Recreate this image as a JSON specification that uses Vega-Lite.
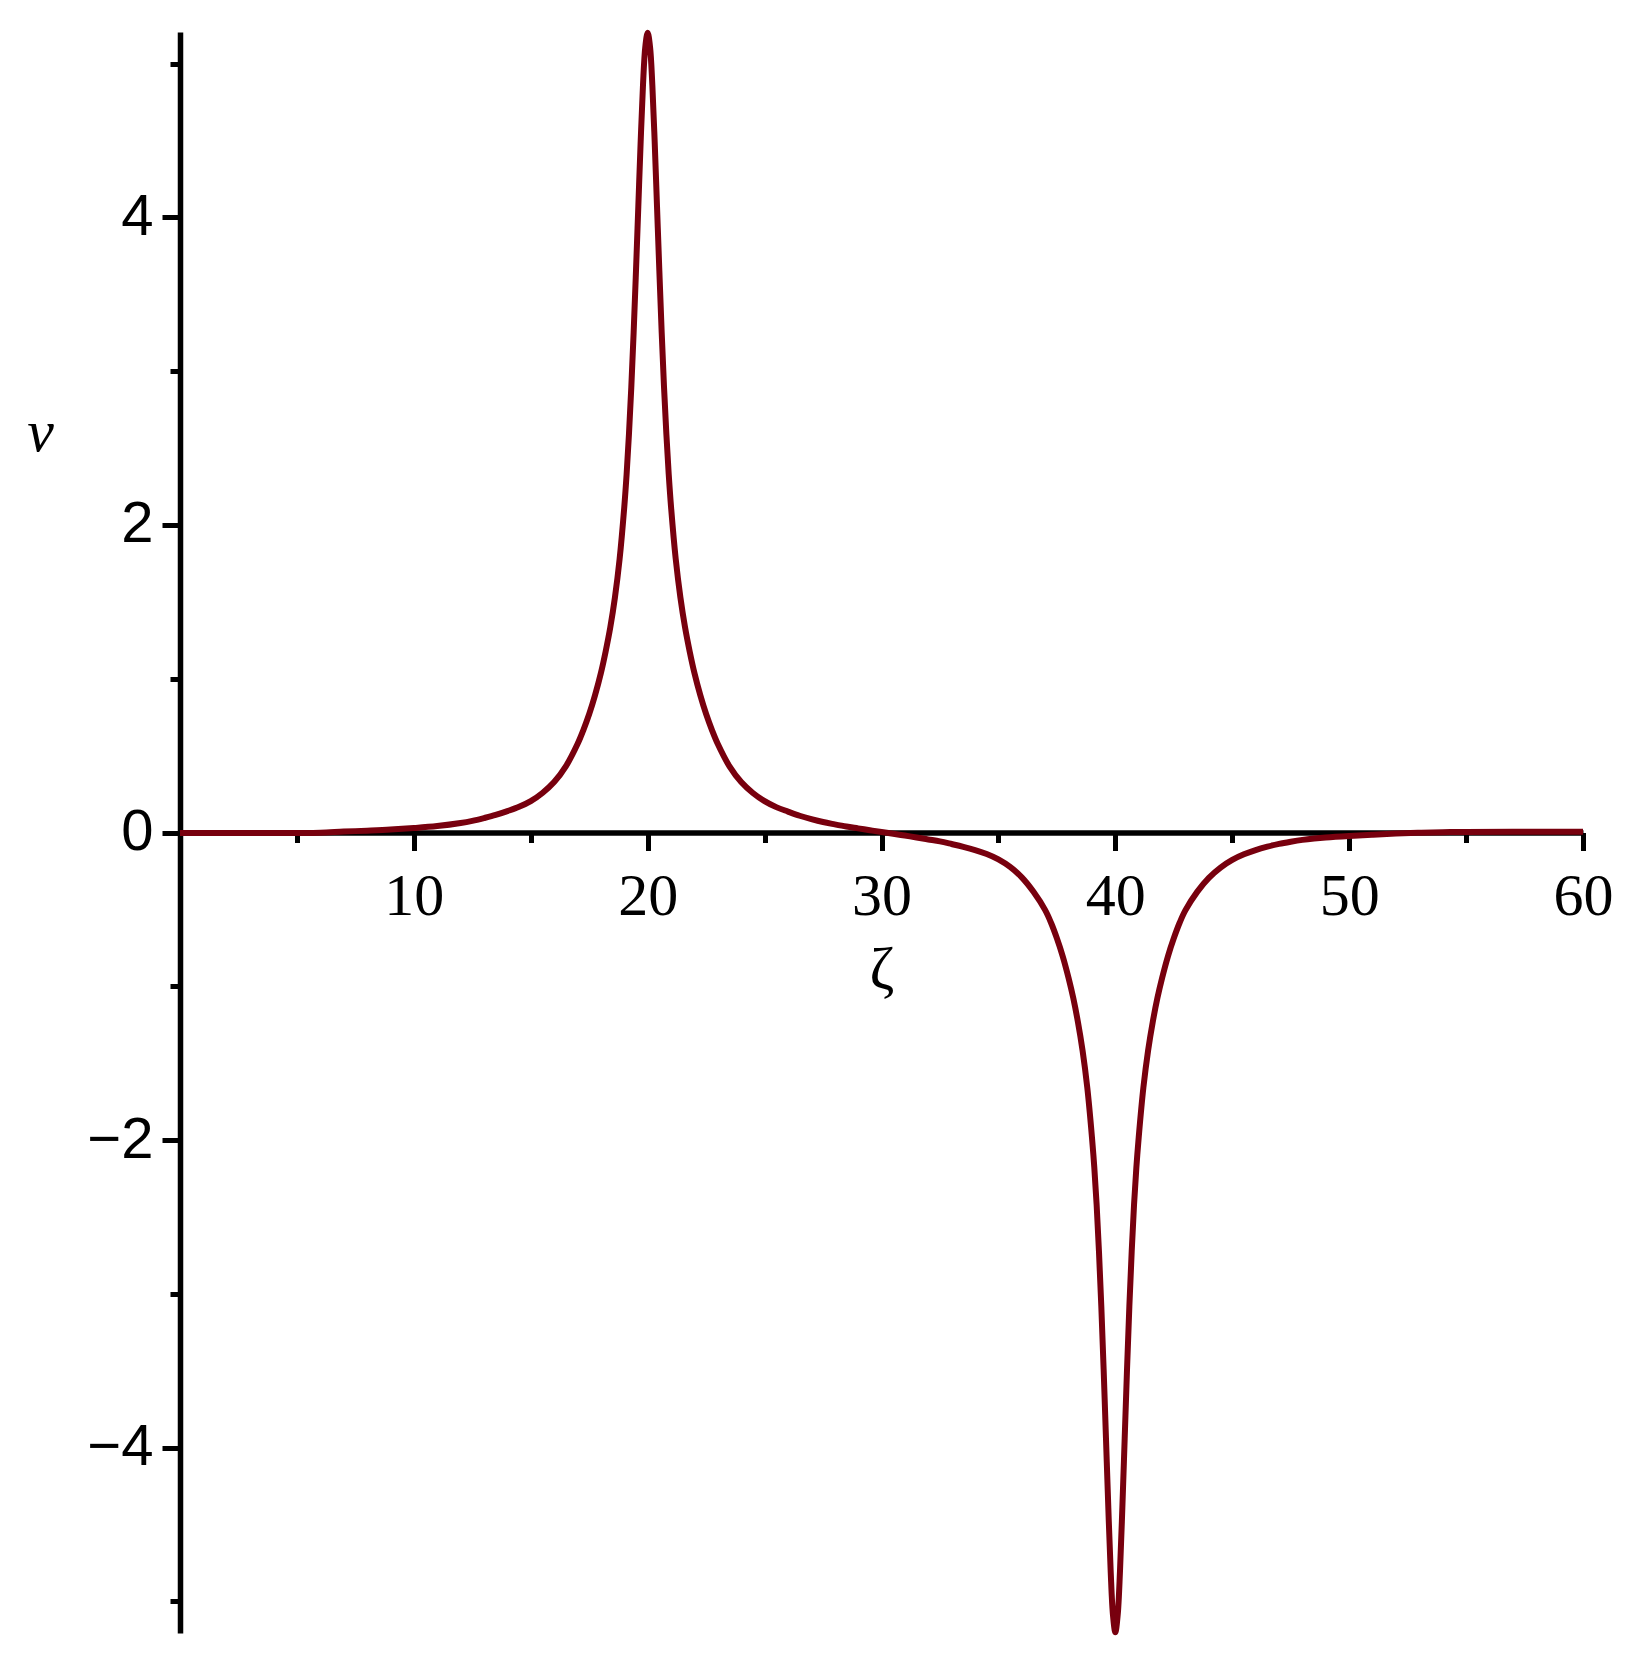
{
  "$schema": "https://vega.github.io/schema/vega-lite/v6.json",
  "width": 1403,
  "height": 1601,
  "autosize": {"type": "none"},
  "padding": {"left": 180, "top": 32, "right": 45, "bottom": 42},
  "background": "white",
  "config": {"view": {"stroke": null}, "axis": {"grid": false}},
  "data": {"values": [
    {"z": 0, "v": -0.004}, {"z": 2, "v": -0.004}, {"z": 4, "v": -0.004}, {"z": 5, "v": -0.003},
    {"z": 6, "v": -0.001}, {"z": 7, "v": 0.006}, {"z": 8, "v": 0.012}, {"z": 9, "v": 0.019},
    {"z": 10, "v": 0.029}, {"z": 11, "v": 0.042}, {"z": 12, "v": 0.062}, {"z": 12.5, "v": 0.076},
    {"z": 13, "v": 0.094}, {"z": 13.5, "v": 0.114}, {"z": 14, "v": 0.139}, {"z": 14.5, "v": 0.167},
    {"z": 15, "v": 0.204}, {"z": 15.5, "v": 0.257}, {"z": 16, "v": 0.328}, {"z": 16.5, "v": 0.43},
    {"z": 17, "v": 0.575}, {"z": 17.25, "v": 0.666}, {"z": 17.5, "v": 0.77}, {"z": 17.75, "v": 0.893},
    {"z": 18, "v": 1.037}, {"z": 18.2, "v": 1.175}, {"z": 18.4, "v": 1.333}, {"z": 18.6, "v": 1.528},
    {"z": 18.8, "v": 1.778}, {"z": 19, "v": 2.117}, {"z": 19.1, "v": 2.33}, {"z": 19.2, "v": 2.59},
    {"z": 19.3, "v": 2.895}, {"z": 19.4, "v": 3.25}, {"z": 19.5, "v": 3.65}, {"z": 19.6, "v": 4.07},
    {"z": 19.7, "v": 4.49}, {"z": 19.8, "v": 4.86}, {"z": 19.9, "v": 5.11}, {"z": 20, "v": 5.2},
    {"z": 20.1, "v": 5.11}, {"z": 20.2, "v": 4.86}, {"z": 20.3, "v": 4.49}, {"z": 20.4, "v": 4.07},
    {"z": 20.5, "v": 3.65}, {"z": 20.6, "v": 3.25}, {"z": 20.7, "v": 2.895}, {"z": 20.8, "v": 2.59},
    {"z": 20.9, "v": 2.33}, {"z": 21, "v": 2.117}, {"z": 21.2, "v": 1.778}, {"z": 21.4, "v": 1.528},
    {"z": 21.6, "v": 1.333}, {"z": 21.8, "v": 1.175}, {"z": 22, "v": 1.037}, {"z": 22.25, "v": 0.893},
    {"z": 22.5, "v": 0.77}, {"z": 22.75, "v": 0.666}, {"z": 23, "v": 0.575}, {"z": 23.5, "v": 0.43},
    {"z": 24, "v": 0.328}, {"z": 24.5, "v": 0.257}, {"z": 25, "v": 0.204}, {"z": 25.5, "v": 0.165},
    {"z": 26, "v": 0.136}, {"z": 26.5, "v": 0.109}, {"z": 27, "v": 0.087}, {"z": 27.5, "v": 0.068},
    {"z": 28, "v": 0.053}, {"z": 28.5, "v": 0.039}, {"z": 29, "v": 0.027}, {"z": 29.5, "v": 0.015},
    {"z": 30, "v": 0.003}, {"z": 30.5, "v": -0.008}, {"z": 31, "v": -0.02}, {"z": 31.5, "v": -0.032},
    {"z": 32, "v": -0.045}, {"z": 32.5, "v": -0.058}, {"z": 33, "v": -0.075}, {"z": 33.5, "v": -0.093},
    {"z": 34, "v": -0.114}, {"z": 34.5, "v": -0.14}, {"z": 35, "v": -0.175}, {"z": 35.5, "v": -0.224},
    {"z": 36, "v": -0.292}, {"z": 36.5, "v": -0.386}, {"z": 37, "v": -0.505}, {"z": 37.25, "v": -0.587},
    {"z": 37.5, "v": -0.688}, {"z": 37.75, "v": -0.805}, {"z": 38, "v": -0.946}, {"z": 38.2, "v": -1.076},
    {"z": 38.4, "v": -1.232}, {"z": 38.6, "v": -1.419}, {"z": 38.8, "v": -1.658}, {"z": 39, "v": -1.981},
    {"z": 39.1, "v": -2.177}, {"z": 39.2, "v": -2.42}, {"z": 39.3, "v": -2.724}, {"z": 39.4, "v": -3.08},
    {"z": 39.5, "v": -3.49}, {"z": 39.6, "v": -3.94}, {"z": 39.7, "v": -4.39}, {"z": 39.8, "v": -4.8},
    {"z": 39.9, "v": -5.09}, {"z": 40, "v": -5.2},
    {"z": 40.1, "v": -5.09}, {"z": 40.2, "v": -4.8}, {"z": 40.3, "v": -4.39}, {"z": 40.4, "v": -3.94},
    {"z": 40.5, "v": -3.49}, {"z": 40.6, "v": -3.08}, {"z": 40.7, "v": -2.724}, {"z": 40.8, "v": -2.42},
    {"z": 40.9, "v": -2.177}, {"z": 41, "v": -1.981}, {"z": 41.2, "v": -1.658}, {"z": 41.4, "v": -1.419},
    {"z": 41.6, "v": -1.232}, {"z": 41.8, "v": -1.076}, {"z": 42, "v": -0.946}, {"z": 42.25, "v": -0.805},
    {"z": 42.5, "v": -0.688}, {"z": 42.75, "v": -0.587}, {"z": 43, "v": -0.505}, {"z": 43.5, "v": -0.386},
    {"z": 44, "v": -0.295}, {"z": 44.5, "v": -0.228}, {"z": 45, "v": -0.178}, {"z": 45.5, "v": -0.142},
    {"z": 46, "v": -0.114}, {"z": 46.5, "v": -0.092}, {"z": 47, "v": -0.074}, {"z": 47.5, "v": -0.06},
    {"z": 48, "v": -0.048}, {"z": 48.5, "v": -0.039}, {"z": 49, "v": -0.032}, {"z": 50, "v": -0.022},
    {"z": 51, "v": -0.014}, {"z": 52, "v": -0.007}, {"z": 53, "v": -0.002}, {"z": 54, "v": 0.002},
    {"z": 55, "v": 0.004}, {"z": 57, "v": 0.005}, {"z": 60, "v": 0.005}
  ]},
  "mark": {"type": "line", "color": "#78000E", "strokeWidth": 6, "interpolate": "catmull-rom", "clip": false},
  "encoding": {
    "x": {
      "field": "z", "type": "quantitative",
      "scale": {"domain": [0, 60], "nice": false, "zero": false},
      "axis": {
        "orient": "bottom", "offset": -800.5,
        "values": [5, 10, 15, 20, 25, 30, 35, 40, 45, 50, 55, 60],
        "labelExpr": "datum.value % 10 === 0 ? datum.label : ''",
        "domainColor": "black", "domainWidth": 5.5,
        "tickColor": "black", "tickWidth": 5,
        "tickSize": {"condition": {"test": "datum.value % 10 === 0", "value": 18}, "value": 10},
        "labelFont": "Liberation Serif", "labelFontSize": 60, "labelColor": "black",
        "labelPadding": 17, "labelFlush": false, "labelOverlap": false,
        "title": "ζ", "titleFont": "Liberation Serif", "titleFontSize": 60,
        "titleFontWeight": "normal", "titleColor": "black", "titlePadding": 14
      }
    },
    "y": {
      "field": "v", "type": "quantitative",
      "scale": {"domain": [-5.205, 5.205], "nice": false, "zero": false},
      "axis": {
        "orient": "left",
        "values": [-5, -4, -3, -2, -1, 0, 1, 2, 3, 4, 5],
        "labelExpr": "datum.value % 2 === 0 ? datum.label : ''",
        "domainColor": "black", "domainWidth": 5.5,
        "tickColor": "black", "tickWidth": 5,
        "tickSize": {"condition": {"test": "datum.value % 2 === 0", "value": 18}, "value": 10},
        "labelFont": "Liberation Sans", "labelFontSize": 58, "labelColor": "black",
        "labelPadding": 9, "labelFlush": false, "labelOverlap": false,
        "title": "v", "titleFont": "Liberation Serif", "titleFontStyle": "italic",
        "titleFontSize": 60, "titleFontWeight": "normal", "titleColor": "black",
        "titleAngle": 0, "titleAlign": "center", "titleBaseline": "alphabetic",
        "titleX": -140, "titleY": 418
      }
    }
  }
}
